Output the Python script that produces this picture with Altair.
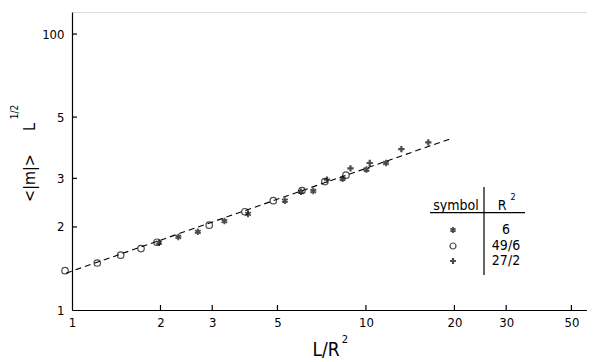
import altair as alt
import pandas as pd

# ---- data ----
x_ticks = [1, 2, 3, 5, 10, 20, 30, 50]
y_ticks = [1, 2, 3, 5, 10]

# R^2 = 49/6 (open circles)
circ_x = [0.947, 1.219, 1.464, 1.717, 1.946, 2.93, 3.876, 4.84, 6.06, 7.25, 8.55]
circ_y = [1.388, 1.48, 1.58, 1.67, 1.76, 2.03, 2.27, 2.49, 2.71, 2.92, 3.08]

# R^2 = 6 (asterisks)
star_x = [1.977, 2.30, 2.68, 3.30, 3.97, 5.30, 6.01, 6.62, 8.33, 10.04, 11.70]
star_y = [1.754, 1.84, 1.92, 2.10, 2.23, 2.49, 2.68, 2.70, 2.99, 3.23, 3.41]

# R^2 = 27/2 (plus signs)
plus_x = [7.37, 8.86, 10.3, 13.2, 16.3]
plus_y = [2.97, 3.26, 3.41, 3.83, 4.05]

# dashed fit line
fit_x = [0.954, 19.6]
fit_y = [1.36, 4.19]

leg_symbols = ["6", "49/6", "27/2"]

# ---- styling ----
FONT = "DejaVu Sans Condensed, DejaVu Sans"
TICKFONT = "Liberation Sans Narrow, DejaVu Sans Condensed, DejaVu Sans"
W, H = 515, 298
xs = alt.Scale(type="log", domain=[1, 56.5], nice=False)
ys = alt.Scale(type="log", domain=[1, 12.02], nice=False)

STAR = "M0,-1L0,1M-0.87,-0.5L0.87,0.5M-0.87,0.5L0.87,-0.5"
PLUS = "M-1,0L1,0M0,-1L0,1"
shapes = {"6": (STAR, 1.9, 42), "49/6": ("circle", 1.2, 42), "27/2": (PLUS, 2.2, 40)}

x_axis = alt.Axis(values=x_ticks, ticks=False, grid=False, title=None,
                  domainColor="black", domainWidth=1.2, labelFont=TICKFONT,
                  labelFontSize=13, labelColor="black", labelPadding=6,
                  labelFlush=False, labelExpr="format(datum.value, 'd')")
y_axis = alt.Axis(values=y_ticks, ticks=False, grid=False, title=None,
                  domainColor="black", domainWidth=1.2, labelFont=TICKFONT,
                  labelFontSize=13, labelColor="black", labelPadding=8,
                  labelFlush=False,
                  labelExpr="datum.value == 10 ? '100' : format(datum.value, 'd')")

base_axes = alt.Chart(pd.DataFrame({"x": [1], "y": [1]})).mark_point(opacity=0).encode(
    x=alt.X("x:Q", scale=xs, axis=x_axis),
    y=alt.Y("y:Q", scale=ys, axis=y_axis),
)

# inward ticks
xt = alt.Chart(pd.DataFrame({"v": x_ticks[1:]})).mark_rule(color="black", strokeWidth=1.2).encode(
    x=alt.X("v:Q", scale=xs), y=alt.value(H), y2=alt.value(H - 5))
yt = alt.Chart(pd.DataFrame({"v": y_ticks[1:]})).mark_rule(color="black", strokeWidth=1.2).encode(
    y=alt.Y("v:Q", scale=ys), x=alt.value(0), x2=alt.value(5))

fit = alt.Chart(pd.DataFrame({"x": fit_x, "y": fit_y})).mark_line(
    color="black", strokeDash=[6, 4], strokeWidth=1.1, clip=False).encode(
    x=alt.X("x:Q", scale=xs), y=alt.Y("y:Q", scale=ys))


def series(xv, yv, key):
    shp, sw, sz = shapes[key]
    return alt.Chart(pd.DataFrame({"x": xv, "y": yv})).mark_point(
        filled=False, color="black", strokeWidth=sw, size=sz, shape=shp, clip=False).encode(
        x=alt.X("x:Q", scale=xs), y=alt.Y("y:Q", scale=ys))


one = pd.DataFrame({"a": [0]})


def txt(s, x, y, size=14, align="center", angle=0, baseline="middle"):
    return alt.Chart(one).mark_text(font=FONT, fontSize=size, color="black", align=align,
                                    baseline=baseline, angle=angle).encode(
        x=alt.value(x), y=alt.value(y), text=alt.value(s))


def rule(x, y, x2=None, y2=None):
    enc = {"x": alt.value(x), "y": alt.value(y)}
    if x2 is not None:
        enc["x2"] = alt.value(x2)
    if y2 is not None:
        enc["y2"] = alt.value(y2)
    return alt.Chart(one).mark_rule(color="black", strokeWidth=1.2).encode(**enc)


layers = [base_axes, xt, yt, fit,
          series(circ_x, circ_y, "49/6"),
          series(star_x, star_y, "6"),
          series(plus_x, plus_y, "27/2")]

# axis titles
layers.append(txt("<|m|>", -42, 166, size=16, angle=270))
layers.append(txt("L", -42, 115, size=16, angle=270))
layers.append(txt("1/2", -57, 100, size=10, angle=270))
layers.append(txt("L/R", 254, 344, size=19, baseline="alphabetic"))
layers.append(txt("2", 273, 331, size=11, baseline="alphabetic"))

# legend table
layers.append(txt("symbol", 384, 194, size=14))
layers.append(txt("R", 430, 194, size=14))
layers.append(txt("2", 441, 185, size=9))
layers.append(rule(358, 200.7, x2=453))
layers.append(rule(412, 175, y2=263))
row_y = [218, 234, 249]
for key, yy in zip(leg_symbols, row_y):
    shp, sw, sz = shapes[key]
    layers.append(alt.Chart(one).mark_point(
        filled=False, color="black", strokeWidth=sw, size=sz - 6, shape=shp).encode(
        x=alt.value(381), y=alt.value(yy)))
    layers.append(txt(key, 434, yy, size=14))

chart = alt.layer(*layers).properties(
    width=W, height=H,
    autosize=alt.AutoSizeParams(type="none"),
    padding={"left": 64, "top": 4, "right": 0, "bottom": 52},
).configure_view(stroke=None).configure(background="white")

chart.save("out.html", embed_options={"renderer": "svg", "actions": False})
